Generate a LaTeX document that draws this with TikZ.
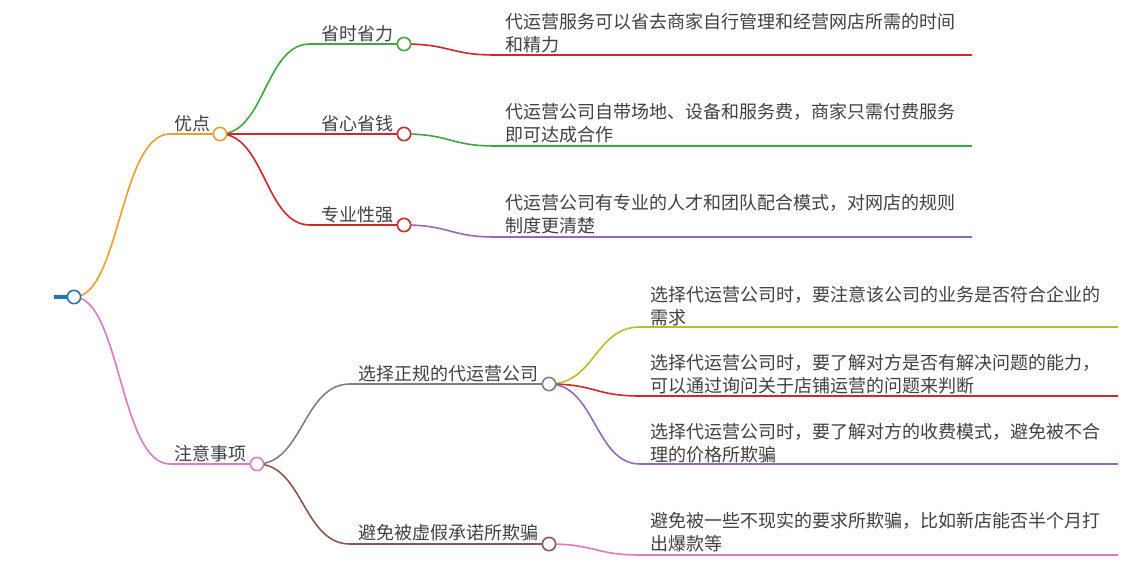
\documentclass[tikz,border=0pt]{standalone}
\usepackage{fontspec}
\setmainfont{Noto Sans CJK SC}
\begin{document}
\begin{tikzpicture}[x=0.75pt,y=-0.75pt,
  dot/.style={circle,draw=#1,fill=white,line width=1.2pt,inner sep=0pt,minimum size=10pt},
  lbl/.style={text=black!75,font=\fontsize{13.5}{16}\selectfont,inner sep=0pt},
  txt/.style={text=black!75,font=\fontsize{13.5}{17.3}\selectfont,inner sep=0pt,anchor=north west,align=left},
  ln/.style={line width=1.2pt}]
\useasboundingbox (0,0) rectangle (1140,571);
\definecolor{cor}{HTML}{F39C2A}\definecolor{cpk}{HTML}{E377C2}
\definecolor{cgr}{HTML}{3DA83D}\definecolor{crd}{HTML}{D62728}
\definecolor{cpu}{HTML}{9467BD}\definecolor{cgy}{HTML}{7F7F7F}
\definecolor{cyl}{HTML}{BCBD22}\definecolor{cbr}{HTML}{8C564B}
\definecolor{cbl}{HTML}{1F77B4}
% root
\draw[cbl,line width=3pt] (54,297) -- (68,297);
% level 1 edges
\draw[ln,cor] (74,297) .. controls (120,297) and (120,134) .. (170,134) -- (220,134);
\draw[ln,cpk] (74,297) .. controls (120,297) and (120,464) .. (170,464) -- (257,464);
\node[dot=cbl] (root) at (74,297) {};
\node[lbl] (t1) at (192,124) {优点};
\node[lbl] (t2) at (210,454) {注意事项};
% 优点 children
\draw[ln,cgr] (220,134) .. controls (265,134) and (265,44) .. (310,44) -- (404,44);
\draw[ln,crd] (220,134) -- (404,134);
\draw[ln,crd] (220,134) .. controls (265,134) and (265,225) .. (310,225) -- (404,225);
\draw[ln,crd] (404,44) .. controls (450,44) and (450,55) .. (495,55) -- (972,55);
\draw[ln,cgr] (404,134) .. controls (450,134) and (450,146) .. (495,146) -- (972,146);
\draw[ln,cpu] (404,225) .. controls (450,225) and (450,237) .. (495,237) -- (972,237);
\node[lbl] (a1) at (357,34) {省时省力};
\node[lbl] (a2) at (357,124) {省心省钱};
\node[lbl] (a3) at (357,215) {专业性强};
\node[txt] (a1t) at (505,13) {代运营服务可以省去商家自行管理和经营网店所需的时间\\和精力};
\node[txt] (a2t) at (505,103) {代运营公司自带场地、设备和服务费，商家只需付费服务\\即可达成合作};
\node[txt] (a3t) at (505,194) {代运营公司有专业的人才和团队配合模式，对网店的规则\\制度更清楚};
% 注意事项 children
\draw[ln,cgy] (257,464) .. controls (303,464) and (303,384) .. (350,384) -- (549,384);
\draw[ln,cbr] (257,464) .. controls (303,464) and (303,544) .. (350,544) -- (549,544);
\draw[ln,cyl] (549,384) .. controls (595,384) and (595,327) .. (640,327) -- (1118,327);
\draw[ln,crd] (549,384) .. controls (595,384) and (595,396) .. (640,396) -- (1118,396);
\draw[ln,cpu] (549,384) .. controls (595,384) and (595,464) .. (640,464) -- (1118,464);
\draw[ln,cpk] (549,544) .. controls (595,544) and (595,555) .. (640,555) -- (1118,555);
\node[lbl] (b1) at (448,374) {选择正规的代运营公司};
\node[lbl] (b2) at (448,533) {避免被虚假承诺所欺骗};
\node[txt] (c1) at (650,286) {选择代运营公司时，要注意该公司的业务是否符合企业的\\需求};
\node[txt] (c2) at (650,354) {选择代运营公司时，要了解对方是否有解决问题的能力，\\可以通过询问关于店铺运营的问题来判断};
\node[txt] (c3) at (650,423) {选择代运营公司时，要了解对方的收费模式，避免被不合\\理的价格所欺骗};
\node[txt] (c4) at (650,512) {避免被一些不现实的要求所欺骗，比如新店能否半个月打\\出爆款等};
% dots
\node[dot=cor] (n1) at (220,134) {};
\node[dot=cpk] (n2) at (257,464) {};
\node[dot=cgr] (m1) at (404,44) {};
\node[dot=crd] (m2) at (404,134) {};
\node[dot=crd] (m3) at (404,225) {};
\node[dot=cgy] (k1) at (549,384) {};
\node[dot=cbr] (k2) at (549,544) {};
\end{tikzpicture}
\end{document}
